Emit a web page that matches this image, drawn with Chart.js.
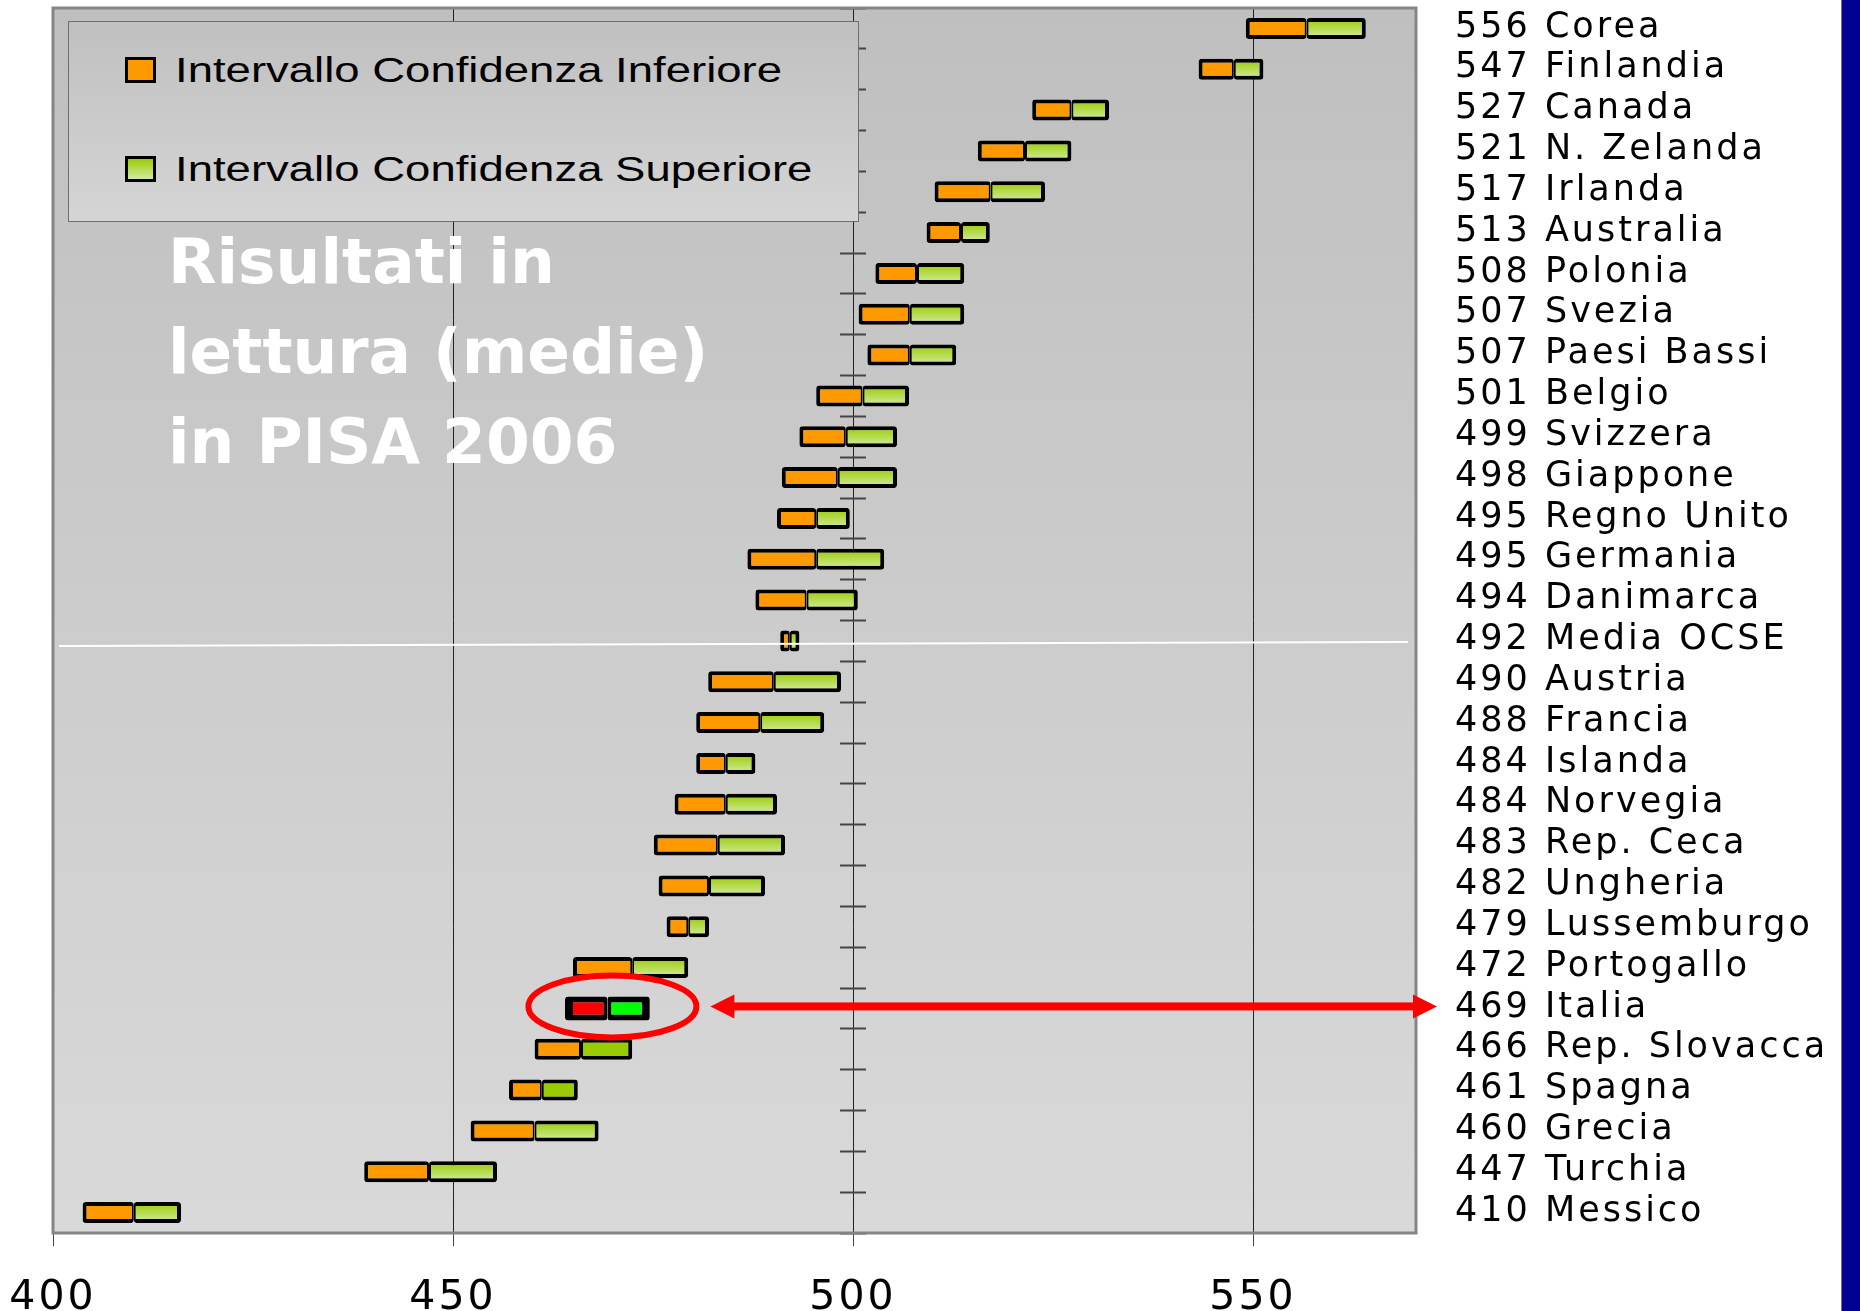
<!DOCTYPE html>
<html>
<head>
<meta charset="utf-8">
<script src="https://cdn.jsdelivr.net/npm/chart.js@4.4.1/dist/chart.umd.min.js"></script>
<style>
  body { margin: 0; background: #fff; }
  #wrap { position: relative; width: 1860px; height: 1311px; overflow: hidden; }
  #chart { position: absolute; left: 0; top: 0; }
  #legend {
    position: absolute; left: 68px; top: 21px; width: 791px; height: 201px;
    box-sizing: border-box; border: 1px solid #6e6e6e;
    background: linear-gradient(#c0c0c0, #d5d5d5);
  }
  .swatch { position: absolute; left: 56px; width: 31px; height: 26px; box-sizing: border-box; border: 3px solid #000; }
  .swatch.s0 { background: #ff9900; }
  .swatch.s1 { background: linear-gradient(#99cc00, #d3eba3); }
  .legend-text {
    position: absolute; left: 106px; font: 35px/35px 'Liberation Sans', Arial, sans-serif;
    color: #000; white-space: nowrap; transform: scaleX(1.3); transform-origin: 0 0;
  }
  #title {
    position: absolute; left: 168px; top: 217px; color: #fff;
    font: bold 63px/90px 'DejaVu Sans', sans-serif; white-space: nowrap;
  }
  #band { position: absolute; left: 1841px; top: 0; width: 19px; height: 1311px; background: #000094; border-left: 1px solid #777; }
</style>
</head>
<body>
<div id="wrap">
  <canvas id="chart" width="1860" height="1311"></canvas>
  <div id="legend"></div>
  <div id="title">Risultati in<br>lettura (medie)<br>in PISA 2006</div>
  <div id="band"></div>
</div>
<script>
// data (reading, PISA 2006)
const countries = ['Corea', 'Finlandia', 'Canada', 'N. Zelanda', 'Irlanda', 'Australia', 'Polonia',
  'Svezia', 'Paesi Bassi', 'Belgio', 'Svizzera', 'Giappone', 'Regno Unito', 'Germania', 'Danimarca',
  'Media OCSE', 'Austria', 'Francia', 'Islanda', 'Norvegia', 'Rep. Ceca', 'Ungheria', 'Lussemburgo',
  'Portogallo', 'Italia', 'Rep. Slovacca', 'Spagna', 'Grecia', 'Turchia', 'Messico'];
const scores = [556, 547, 527, 521, 517, 513, 508, 507, 507, 501, 499, 498, 495, 495, 494,
  492, 490, 488, 484, 484, 483, 482, 479, 472, 469, 466, 461, 460, 447, 410];
const lowerLimits = [549.1, 543.2, 522.4, 515.6, 510.2, 509.2, 502.8, 500.7, 501.8, 495.4, 493.3, 491.1,
  490.5, 486.8, 487.8, 490.9, 481.9, 480.4, 480.4, 477.7, 475.1, 475.7, 476.7, 465.0, 464.0, 460.2,
  457.0, 452.2, 438.9, 403.7];
const centres = [556.7, 547.6, 527.3, 521.5, 517.2, 513.5, 508.0, 507.1, 507.1, 501.2, 499.1, 498.1,
  495.4, 495.4, 494.2, 492.1, 490.1, 488.4, 484.1, 484.1, 483.1, 482.0, 479.4, 472.4, 469.3, 466.0,
  461.1, 460.2, 447.0, 410.1];
const upperLimits = [564.1, 551.3, 532.0, 527.3, 524.0, 517.1, 513.9, 513.9, 512.9, 507.0, 505.5, 505.5,
  499.6, 503.9, 500.6, 493.3, 498.5, 496.4, 487.8, 490.5, 491.5, 489.0, 482.0, 479.4, 474.6, 472.4,
  465.6, 468.2, 455.5, 416.0];
const xTickValues = [400, 450, 500, 550];
const seriesNames = ['Intervallo Confidenza Inferiore', 'Intervallo Confidenza Superiore'];
const highlighted = 'Italia';
const averageRow = 'Media OCSE';
const flatGreenRows = ['Rep. Slovacca', 'Spagna'];

const labels = scores.map((s, i) => s + ' ' + countries[i]);
const hi = countries.indexOf(highlighted);

const lowData = countries.map((c, i) => i === hi ? null : [lowerLimits[i], centres[i]]);
const highData = countries.map((c, i) => i === hi ? null : [centres[i], upperLimits[i]]);
const hiLowData = countries.map((c, i) => i === hi ? [lowerLimits[i], centres[i]] : null);
const hiHighData = countries.map((c, i) => i === hi ? [centres[i], upperLimits[i]] : null);

// legend (html, sits inside the plot like the original)
const legendBox = document.getElementById('legend');
seriesNames.forEach(function(name, i) {
  const sw = document.createElement('span');
  sw.className = 'swatch s' + i;
  sw.style.top = (35 + i * 99) + 'px';
  const tx = document.createElement('span');
  tx.className = 'legend-text';
  tx.style.top = (30 + i * 99) + 'px';
  tx.textContent = name;
  legendBox.appendChild(sw);
  legendBox.appendChild(tx);
});

function greenFill(context) {
  const yScale = context.chart.scales.y;
  if (context.type !== 'data' || !yScale) return '#99cc00';
  if (flatGreenRows.includes(countries[context.dataIndex])) return '#99cc00';
  const yc = yScale.getPixelForValue(context.dataIndex);
  if (!isFinite(yc)) return '#99cc00';
  const g = context.chart.ctx.createLinearGradient(0, yc - 10, 0, yc + 10);
  g.addColorStop(0, '#99cc00');
  g.addColorStop(1, '#d3eba3');
  return g;
}

const decorations = {
  id: 'decorations',
  beforeUpdate(chart) {
    chart.ctx.letterSpacing = '3px';
  },
  beforeDraw(chart) {
    const ctx = chart.ctx;
    const a = chart.chartArea;
    ctx.letterSpacing = '3px';
    if (!a || !isFinite(a.top) || !isFinite(a.bottom)) return;
    ctx.save();
    const g = ctx.createLinearGradient(0, a.top, 0, a.bottom);
    g.addColorStop(0, '#bfbfbf');
    g.addColorStop(1, '#d9d9d9');
    ctx.fillStyle = g;
    ctx.fillRect(a.left, a.top, a.width, a.height);
    ctx.restore();
  },
  beforeDatasetsDraw(chart) {
    const ctx = chart.ctx;
    const a = chart.chartArea;
    ctx.save();
    ctx.strokeStyle = '#858585';
    ctx.lineWidth = 3;
    ctx.strokeRect(a.left, a.top, a.width, a.height);
    ctx.restore();
  },
  afterDatasetsDraw(chart) {
    const ctx = chart.ctx;
    const a = chart.chartArea;
    const xs = chart.scales.x;
    const ys = chart.scales.y;
    ctx.save();
    // white line through the OECD average
    const yAvg = ys.getPixelForValue(countries.indexOf(averageRow));
    ctx.strokeStyle = '#ffffff';
    ctx.lineWidth = 2;
    ctx.beginPath();
    ctx.moveTo(a.left + 6, yAvg + 5);
    ctx.lineTo(a.right - 8, yAvg + 1);
    ctx.stroke();

    // red ring around Italia
    const yHi = ys.getPixelForValue(hi) - 2;
    const xHi = (xs.getPixelForValue(lowerLimits[hi]) + xs.getPixelForValue(upperLimits[hi])) / 2 + 5;
    ctx.strokeStyle = '#ff0000';
    ctx.lineWidth = 6;
    ctx.beginPath();
    ctx.ellipse(xHi, yHi, 84, 31, 0, 0, Math.PI * 2);
    ctx.stroke();

    // double arrow to the label
    const x0 = xHi + 98;
    const x1 = a.right + 21;
    ctx.fillStyle = '#ff0000';
    ctx.fillRect(x0 + 20, yHi - 4, x1 - x0 - 40, 8);
    ctx.beginPath();
    ctx.moveTo(x0, yHi); ctx.lineTo(x0 + 24, yHi - 12); ctx.lineTo(x0 + 24, yHi + 12);
    ctx.closePath(); ctx.fill();
    ctx.beginPath();
    ctx.moveTo(x1, yHi); ctx.lineTo(x1 - 24, yHi - 12); ctx.lineTo(x1 - 24, yHi + 12);
    ctx.closePath(); ctx.fill();
    ctx.restore();
  }
};

const ctx = document.getElementById('chart').getContext('2d');
new Chart(ctx, {
  type: 'bar',
  data: {
    labels: labels,
    datasets: [
      {
        label: seriesNames[0], data: lowData, backgroundColor: '#ff9900', borderColor: '#000',
        borderWidth: {top: 4, bottom: 4, left: 4, right: 2}, borderSkipped: false, borderRadius: 3,
        grouped: false, maxBarThickness: 21
      },
      {
        label: seriesNames[1], data: highData, backgroundColor: greenFill, borderColor: '#000',
        borderWidth: {top: 4, bottom: 4, left: 2, right: 4}, borderSkipped: false, borderRadius: 3,
        grouped: false, maxBarThickness: 21
      },
      {
        label: highlighted, data: hiLowData, backgroundColor: '#ff0000', borderColor: '#000',
        borderWidth: {top: 6, bottom: 6, left: 8, right: 4}, borderSkipped: false, borderRadius: 3,
        grouped: false, maxBarThickness: 24
      },
      {
        label: highlighted, data: hiHighData, backgroundColor: '#00ff00', borderColor: '#000',
        borderWidth: {top: 6, bottom: 6, left: 4, right: 8}, borderSkipped: false, borderRadius: 3,
        grouped: false, maxBarThickness: 24
      }
    ]
  },
  options: {
    indexAxis: 'y',
    responsive: false,
    animation: false,
    devicePixelRatio: 1,
    layout: { padding: { left: 53, top: 8, right: 0, bottom: 0 } },
    plugins: { legend: { display: false }, tooltip: { enabled: false } },
    scales: {
      x: {
        type: 'linear', position: 'bottom', min: 400, max: 570.375,
        afterBuildTicks: function(s) { s.ticks = xTickValues.map(v => ({ value: v })); },
        afterFit: function(s) { s.height = 78; s.paddingLeft = 0; s.paddingRight = 0; },
        grid: { color: '#222', lineWidth: 1, tickLength: 13, tickColor: '#444' },
        border: { display: false },
        ticks: { font: { family: 'DejaVu Sans', size: 41 }, color: '#000', padding: 28, maxRotation: 0 }
      },
      y: {
        type: 'category', position: 'right', offset: true,
        grid: { display: false, drawTicks: false },
        border: { display: false },
        ticks: { font: { family: 'DejaVu Sans', size: 35 }, color: '#000', padding: 39, autoSkip: false, labelOffset: -1 },
        afterFit: function(s) { s.width = 444; s.paddingTop = 0; s.paddingBottom = 0; }
      },
      yTicks: {
        type: 'category', axis: 'y', position: { x: 501.625 }, offset: true,
        grid: { offset: true, drawOnChartArea: false, tickLength: 26, tickColor: '#444', tickWidth: 2 },
        border: { display: false },
        ticks: { display: false },
        afterFit: function(s) { s.paddingTop = 0; s.paddingBottom = 0; }
      }
    }
  },
  plugins: [decorations]
});
</script>
</body>
</html>
